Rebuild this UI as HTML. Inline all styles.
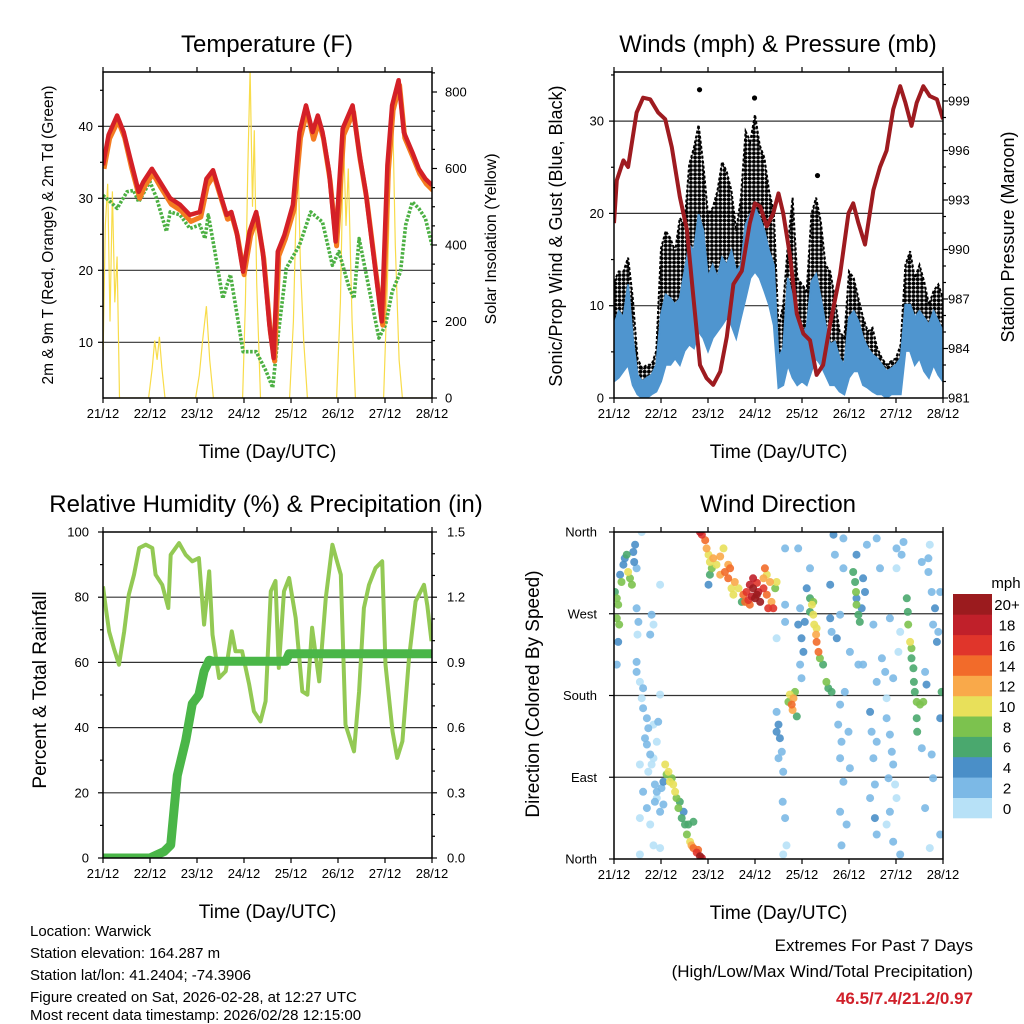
<!DOCTYPE html>
<html><head><meta charset="utf-8"><style>
html,body{margin:0;padding:0;background:#fff}
svg{display:block;font-family:"Liberation Sans",Arial,sans-serif}
</style></head><body>
<svg id="s" width="1024" height="1024" viewBox="0 0 1024 1024" xmlns="http://www.w3.org/2000/svg">
<defs>
<clipPath id="c1"><rect x="103" y="72" width="329" height="326"/></clipPath>
<clipPath id="c2"><rect x="614" y="72" width="329" height="326"/></clipPath>
<clipPath id="c3"><rect x="103" y="532" width="329" height="326"/></clipPath>
<clipPath id="c4"><rect x="614" y="532" width="329" height="327"/></clipPath>
<pattern id="dots" width="4.2" height="4.2" patternUnits="userSpaceOnUse"><circle cx="2.1" cy="2.1" r="2.0" fill="#000"/></pattern>
</defs>
<g id="g1"></g>
<g id="g2"></g>
<g id="g3"></g>
<g id="g4"></g>
<g id="txt" font-size="15" fill="#000">
<text x="30" y="936">Location: Warwick</text>
<text x="30" y="958">Station elevation: 164.287 m</text>
<text x="30" y="980">Station lat/lon: 41.2404; -74.3906</text>
<text x="30" y="1002">Figure created on Sat, 2026-02-28, at 12:27 UTC</text>
<text x="30" y="1024" dy="-4">Most recent data timestamp: 2026/02/28 12:15:00</text>
<text x="973" y="951" text-anchor="end" font-size="17">Extremes For Past 7 Days</text>
<text x="973" y="977" text-anchor="end" font-size="17">(High/Low/Max Wind/Total Precipitation)</text>
<text x="973" y="1004" text-anchor="end" font-size="17" font-weight="bold" fill="#d0202a">46.5/7.4/21.2/0.97</text>
</g>
</svg>
<script>
// ---- Temperature data ----
const tempDays=[0,0.12,0.30,0.44,0.58,0.76,0.86,1.04,1.21,1.43,1.64,1.85,2.06,2.20,2.34,2.48,2.63,2.73,2.84,2.98,3.12,3.26,3.40,3.54,3.63,3.72,3.86,4.04,4.18,4.32,4.46,4.57,4.67,4.81,4.95,5.10,5.31,5.45,5.59,5.80,5.93,6.05,6.15,6.29,6.40,6.58,6.72,6.86,7.0];
const temp2m=[34.6,38.8,41.5,39.2,35.5,30.9,32.3,34.1,32.3,30.0,29.1,27.7,28.1,32.7,33.9,30.9,27.7,28.1,25.4,19.8,25.4,28.1,22.6,12.4,7.8,22.6,24.9,29.1,39.2,42.9,39.2,41.5,39.2,33.7,24.0,39.7,42.9,36.4,30.9,19.8,12.9,34.6,42.9,46.4,39.2,36.4,34.1,32.7,31.8];
const temp9m=[34.3,38.5,41.0,38.6,34.6,30.2,31.8,33.6,31.7,29.4,28.5,27.0,27.6,32.0,33.4,30.4,27.3,27.6,25.0,19.6,25.0,27.6,21.8,11.6,7.6,22.2,24.6,28.6,38.6,42.3,38.4,40.8,38.5,32.7,23.6,39.0,42.2,35.6,30.2,19.2,12.6,34.0,42.4,45.9,38.6,35.8,33.6,32.2,31.3];
const dewDays=[0,0.16,0.30,0.51,0.65,0.76,1.00,1.14,1.35,1.43,1.64,1.85,2.06,2.17,2.24,2.38,2.55,2.71,2.84,2.98,3.26,3.47,3.61,3.72,3.90,4.18,4.42,4.67,4.88,5.02,5.24,5.34,5.45,5.59,5.87,6.01,6.15,6.33,6.44,6.58,6.72,6.86,7.0];
const dew2m=[30.4,29.5,28.6,30.9,31.1,29.5,32.3,30.0,25.4,28.1,27.7,25.8,26.3,24.4,27.7,22.6,16.1,19.4,14.3,8.7,8.7,6.0,3.7,10.6,20.3,23.5,28.1,26.7,20.7,22.6,17.5,16.1,24.4,19.8,10.6,12.4,17.0,19.8,26.3,29.5,28.6,27.2,23.5];
const solarDays=[0,0.05,0.1,0.15,0.2,0.25,0.3,0.35,0.97,1.05,1.1,1.15,1.2,1.25,1.32,1.97,2.05,2.12,2.2,2.27,2.35,2.97,3.03,3.08,3.13,3.18,3.22,3.27,3.35,3.97,4.05,4.1,4.15,4.2,4.27,4.35,4.97,5.05,5.12,5.17,5.22,5.3,5.37,5.97,6.05,6.12,6.17,6.22,6.3,6.37,7.0];
const solarW=[100,450,560,200,540,250,370,0,0,80,150,100,160,80,0,0,60,150,240,100,0,0,250,600,860,500,700,300,0,0,200,450,615,350,150,0,0,250,680,450,600,200,0,0,300,650,700,400,100,0,0];
// ---- Winds / pressure data ----
const presDays=[0,0.06,0.2,0.3,0.48,0.62,0.77,0.94,1.09,1.23,1.40,1.55,1.69,1.83,1.97,2.11,2.26,2.40,2.54,2.72,2.89,3.0,3.11,3.25,3.39,3.50,3.60,3.74,3.89,4.03,4.17,4.31,4.45,4.60,4.81,4.99,5.09,5.20,5.34,5.52,5.66,5.80,5.94,6.09,6.20,6.33,6.44,6.58,6.72,6.87,7.0];
const presMb=[991.6,994.2,995.4,995.0,998.3,999.2,999.1,998.3,997.9,996.2,993.2,991.2,987.1,983.0,982.2,981.8,982.6,984.7,987.9,988.7,991.6,992.8,992.6,991.4,992.2,993.4,992.2,989.7,986.1,984.9,984.5,982.4,983.0,985.5,988.5,992.2,992.8,991.6,990.3,993.6,995.0,996.0,998.5,999.9,998.9,997.5,998.9,999.9,999.3,999.1,997.9];
const windStepDays=0.1;
const windHi=[7.9,9.4,8.7,12.3,6.5,2.5,1.8,2.2,2.5,3.6,9.0,11.2,10.8,10.1,10.8,13.7,16.6,15.9,19.9,18.1,13.0,14.4,13.0,15.2,14.4,15.9,13.7,14.4,18.8,19.9,20.6,19.5,18.1,15.9,14.4,4.3,5.4,13.0,10.8,8.7,7.2,7.6,12.6,13.4,10.8,7.9,5.8,6.1,4.3,3.6,8.7,9.4,8.3,6.5,5.4,4.7,4.3,3.6,2.9,3.2,3.6,4.3,10.1,10.1,8.7,9.4,8.7,7.9,9.4,8.3,7.2];
const windLo=[1.8,2.2,2.9,3.6,1.4,0.4,0,0,0.4,0.7,1.8,3.6,3.6,4.3,3.6,5.1,5.8,5.4,7.2,6.5,5.1,6.5,7.2,7.9,8.7,7.9,6.5,8.7,10.8,13.0,13.7,13.0,11.6,10.1,7.9,1.1,1.4,3.6,2.2,1.4,1.8,1.4,2.9,4.3,3.6,2.5,1.4,1.4,0.7,0.4,2.2,2.9,2.9,1.4,1.1,0.7,0.4,0.4,0,0.4,0.4,0.4,5.1,5.1,3.6,4.3,2.9,2.2,3.6,2.5,1.8];
const gustHi=[12.6,13.7,13.7,15.2,10.8,4.3,3.2,3.6,3.6,5.1,16.2,18.1,17.3,15.9,19.5,18.8,25.3,27.1,29.6,25.3,19.9,20.6,22.4,25.6,24.5,22.4,18.1,21.7,28.9,27.8,30.7,27.4,26.0,22.4,20.2,7.6,10.1,16.6,21.7,13.0,12.3,11.6,19.9,21.7,19.1,14.4,13.7,10.8,7.2,6.5,13.7,13.0,10.8,8.7,7.2,7.6,5.4,4.3,3.6,4.0,4.3,5.8,14.4,15.9,13.0,14.4,12.6,10.1,11.6,12.3,10.8];
const gustPeakDays=[1.82,2.99,4.33];
const gustPeakMph=[33.4,32.5,24.1];
// ---- Humidity / precipitation ----
const rhDays=[0,0.06,0.13,0.23,0.34,0.45,0.55,0.66,0.77,0.91,1.05,1.12,1.26,1.39,1.44,1.62,1.76,1.9,2.04,2.15,2.26,2.33,2.47,2.61,2.74,2.82,2.96,3.11,3.21,3.35,3.46,3.57,3.67,3.74,3.85,3.96,4.1,4.24,4.35,4.45,4.6,4.74,4.88,4.96,5.06,5.16,5.34,5.45,5.55,5.66,5.8,5.94,6.01,6.16,6.26,6.37,6.51,6.65,6.83,6.9,6.99];
const rhPct=[83.3,76.7,69.5,64.4,59.3,69.5,80.8,86.9,95.1,96.1,95.1,86.9,83.8,76.7,93.0,96.6,93.0,91.0,92.0,71.6,87.9,68.5,55.2,57.3,69.5,63.4,63.4,53.2,45.0,41.9,48.1,81.8,85.0,58.3,81.8,85.9,73.6,51.1,50.1,70.6,54.2,79.8,96.1,92.0,86.9,40.9,32.7,51.1,76.7,83.8,89.0,91.0,59.3,38.9,30.7,35.8,61.3,78.7,83.8,77.5,66.5];
const precDays=[0,1.0,1.3,1.44,1.58,1.76,1.9,2.04,2.15,2.26,2.33,3.89,3.96,7.0];
const precIn=[0,0,0.03,0.06,0.38,0.54,0.71,0.75,0.86,0.91,0.905,0.905,0.94,0.94];
// ---- Wind direction: [day, degrees, mph] ----
const windDirObs=[
[0.02,294,6],[0.06,287,8],[0.09,280,8],[0.06,265,8],[0.11,258,8],[0.13,313,5],[0.2,324,4],[0.23,331,4],[0.27,335,6],[0.3,316,10],[0.34,309,8],[0.38,302,8],[0.41,338,4],[0.45,346,4],[0.43,327,4],[0.16,305,8],[0.09,239,4],[0.06,214,3],[0.48,320,2],[0.59,360,1],
[0.48,276,3],[0.52,261,3],[0.5,247,1],[0.48,217,2],[0.48,206,3],[0.55,195,1],[0.62,188,2],[0.59,177,1],[0.62,166,3],[0.7,155,2],[0.73,144,2],[0.66,133,2],[0.7,126,2],[0.77,115,2],[0.8,104,1],[0.73,96,1],[0.84,111,1],[0.91,129,1],[0.98,302,1],[0.8,269,2],[0.84,258,1],[0.77,247,2],[0.84,148,1],[0.55,104,1],[0.62,74,2],[0.7,56,2],[0.55,45,1],[0.77,38,1],[0.91,67,1],[0.84,15,1],[0.55,5,1],[0.98,12,1],[0.94,151,2],[0.98,181,1],[0.87,82,2],
[1.09,104,10],[1.16,96,10],[1.23,89,8],[1.3,74,10],[1.33,67,8],[1.37,56,8],[1.44,45,6],[1.51,38,6],[1.55,27,8],[1.62,19,10],[1.69,12,14],[1.76,7,16],[1.83,3,20],[1.87,1,18],[1.79,10,14],[1.65,15,12],[1.19,85,10],[1.26,82,10],[1.12,93,8],[1.05,85,4],[1.01,78,3],[1.05,60,3],[0.98,52,3],[0.91,74,2],[0.87,63,3],[1.48,52,4],[1.4,63,6],[1.58,38,6],[1.69,41,6],
[1.83,360,18],[1.87,357,16],[1.94,351,14],[1.97,342,12],[2.01,335,10],[2.04,327,10],[2.08,320,8],[2.04,313,6],[2.11,331,12],[2.18,324,10],[2.26,333,12],[2.33,342,10],[2.26,313,12],[2.36,316,14],[2.43,309,14],[2.47,320,14],[2.5,298,10],[2.54,291,10],[2.57,305,12],[2.65,298,10],[2.72,283,6],[2.75,291,14],[2.82,294,16],[2.89,302,18],[2.96,298,20],[3.04,291,20],[3.11,283,20],[3.07,294,18],[3.0,287,20],[2.93,289,18],[2.86,285,16],[3.18,298,16],[3.21,320,14],[3.25,291,14],[3.32,305,12],[3.35,283,12],[3.39,276,16],[3.28,276,16],[3.43,298,8],[3.46,305,10],[2.96,309,18],[3.18,309,12],[3.25,313,10],[2.01,302,4],[2.43,324,12],[3.04,304,16],[2.79,283,14],[2.89,280,14],
[3.74,181,10],[3.78,170,14],[3.82,177,12],[3.85,184,8],[3.8,164,12],[3.89,157,6],[3.71,173,8],
[4.17,287,6],[4.21,280,10],[4.24,269,10],[4.26,258,10],[4.3,247,12],[4.31,239,14],[4.35,228,14],[4.38,221,8],[4.45,214,6],[4.52,195,8],[4.56,188,6],[4.63,184,6],[4.17,272,6],[4.24,283,8],[4.31,254,10],
[5.09,316,6],[5.13,305,6],[5.15,294,8],[5.16,280,8],[5.2,269,6],[5.23,261,6],[5.16,287,4],[5.27,276,4],[5.34,294,4],[5.3,309,4],
[6.23,287,6],[6.25,272,6],[6.26,258,8],[6.3,239,10],[6.33,232,8],[6.33,221,6],[6.37,210,6],[6.38,195,6],[6.4,184,6],[6.44,173,8],[6.51,170,8],[6.44,155,6],[6.45,140,6],[6.58,173,8],
[3.46,162,3],[3.5,148,4],[3.53,133,4],[3.57,118,3],[3.6,96,3],[3.5,111,3],[3.59,63,2],[3.64,45,2],[3.67,15,1],[3.6,5,1],[3.46,140,4],[3.64,342,2],[3.92,342,2],[3.46,243,1],[3.64,261,2],[3.64,280,2],[3.92,258,4],[3.99,243,4],[4.03,228,4],[3.96,214,3],[3.99,199,3],[4.1,298,4],[4.17,320,3],[4.06,261,4],[3.96,276,3],
[4.6,302,4],[4.67,357,4],[4.7,335,3],[4.6,265,4],[4.63,250,3],[4.74,243,4],[4.81,269,3],[4.88,353,2],[4.88,320,3],[4.81,170,2],[4.77,148,3],[4.84,129,2],[4.81,111,2],[4.88,85,3],[4.81,52,2],[4.95,38,2],[4.84,15,2],[5.02,100,2],[4.91,184,3],[4.99,140,2],
[5.16,335,4],[5.38,346,2],[5.45,162,4],[5.48,140,3],[5.52,111,3],[5.55,82,3],[5.55,45,4],[5.59,27,3],[5.45,67,2],[5.59,129,2],[5.02,228,3],[5.2,214,3],[5.3,214,2],[5.59,353,2],[5.66,320,2],[5.52,258,3],[5.7,221,2],[5.59,195,2],
[5.8,155,2],[5.87,137,2],[5.91,118,2],[5.94,104,2],[5.84,89,2],[5.98,82,1],[6.01,67,1],[5.87,52,2],[5.8,38,1],[5.94,19,2],[6.09,5,2],[5.8,177,1],[6.01,342,2],[6.12,335,3],[6.16,349,2],[6.01,320,1],[5.87,265,2],[6.09,250,1],[5.94,199,2],[5.77,206,2],[6.05,228,1],
[6.55,327,2],[6.69,316,3],[6.76,294,3],[6.83,276,4],[6.79,258,3],[6.87,239,4],[6.62,206,3],[6.65,192,4],[6.72,346,1],[6.94,294,3],[6.97,184,6],[6.94,155,4],[6.76,115,3],[6.55,122,2],[6.94,27,2],[6.72,12,1],[6.62,56,2],[6.79,89,2],[6.69,331,2],[6.9,250,3]
];
const speedLabels=["0","2","4","6","8","10","12","14","16","18","20+"];
const speedColors=["#b7e1f7","#7cb9e6","#4a8fc8","#4aa86e","#7cc24e","#e8e05a","#f9a94a","#f26b2a","#e0352b","#c0202a","#9b1b1e"];
const dayLabels=["21/12","22/12","23/12","24/12","25/12","26/12","27/12","28/12"];

const NS="http://www.w3.org/2000/svg";
function mk(parent,tag,attrs,text){const e=document.createElementNS(NS,tag);for(const k in attrs)e.setAttribute(k,attrs[k]);if(text!==undefined)e.textContent=text;parent.appendChild(e);return e;}
function pts(xs,ys,fx,fy){return xs.map((x,i)=>fx(x).toFixed(1)+","+fy(ys[i]).toFixed(1)).join(" ");}

function frame(g,L,T,W,H,title,xlab,tcx){
  // x ticks + labels
  dayLabels.forEach((lab,i)=>{
    const x=L+i*W/7;
    mk(g,"line",{x1:x,x2:x,y1:T+H,y2:T+H+5,stroke:"#000","stroke-width":1.2});
    mk(g,"line",{x1:x,x2:x,y1:T,y2:T-5,stroke:"#000","stroke-width":1.2});
    const t=mk(g,"text",{x:x,y:T+H+20,"text-anchor":"middle","font-size":13},lab);
    
    
  });
  const tt=mk(g,"text",{x:tcx,y:T-20,"text-anchor":"middle","font-size":24},title);
  
  
  const xl=mk(g,"text",{x:L+W/2,y:T+H+60,"text-anchor":"middle","font-size":19},xlab);
  
  
}
function border(g,L,T,W,H){
  const r=mk(g,"rect",{x:L,y:T,width:W,height:H,fill:"none",stroke:"#000","stroke-width":1.5});
  
  
}
function grid(g,L,W,y){const l=mk(g,"line",{x1:L,x2:L+W,y1:y,y2:y,stroke:"#333","stroke-width":1.2});}
function yTick(g,x,y,dir,len,label,anchor,lx){
  mk(g,"line",{x1:x,x2:x+dir*len,y1:y,y2:y,stroke:"#000","stroke-width":1.2});
  if(label!==null){const t=mk(g,"text",{x:lx,y:y+4.5,"text-anchor":anchor,"font-size":13},label);
    
    }
}
function vlabel(g,x,y,size,text,name){const t=mk(g,"text",{x:x,y:y,"text-anchor":"middle","font-size":size,transform:`rotate(-90 ${x} ${y})`},text);
  
  }

// ===== Panel 1 =====
(function(){
  const g=document.getElementById("g1");const L=103,T=72,W=329,H=326;
  const x=d=>L+d*W/7, y=v=>342.3-(v-10)*7.2, ys=w=>T+H-w*0.3825;
  [10,20,30,40].forEach(v=>grid(g,L,W,y(v)));
  const c=mk(g,"g",{"clip-path":"url(#c1)"});
  const sol=mk(c,"polyline",{points:pts(solarDays,solarW,x,ys),fill:"none",stroke:"#f8dc4a","stroke-width":1.2});
  
  
  const dw=mk(c,"polyline",{points:pts(dewDays,dew2m,x,y),fill:"none",stroke:"#4cb043","stroke-width":3.6,"stroke-dasharray":"2.6 1.6","stroke-linejoin":"round"});
  
  
  const o=mk(c,"polyline",{points:pts(tempDays,temp9m,x,y),fill:"none",stroke:"#f47b20","stroke-width":5,"stroke-linejoin":"round",transform:"translate(1,1.5)"});
  
  
  const r=mk(c,"polyline",{points:pts(tempDays,temp2m,x,y),fill:"none",stroke:"#d42027","stroke-width":4.5,"stroke-linejoin":"round"});
  
  
  border(g,L,T,W,H);
  [10,20,30,40].forEach(v=>yTick(g,L,y(v),-1,5,String(v),"end",93));
  [5,15,25,35,45].forEach(v=>yTick(g,L,y(v),-1,3,null));
  [0,200,400,600,800].forEach(v=>yTick(g,L+W,ys(v),1,5,String(v),"start",445));
  [50,100,150,250,300,350,450,500,550,650,700,750,850].forEach(v=>yTick(g,L+W,ys(v),1,3,null));
  frame(g,L,T,W,H,"Temperature (F)","Time (Day/UTC)",267);
  vlabel(g,53,235,15.5,"2m & 9m T (Red, Orange) & 2m Td (Green)","left-y-axis-title");
  vlabel(g,496,239,16,"Solar Insolation (Yellow)","right-y-axis-title");
})();

// ===== Panel 2 =====
(function(){
  const g=document.getElementById("g2");const L=614,T=72,W=329,H=326;
  const x=d=>L+d*W/7, y=v=>T+H-v*9.23, yp=p=>T+H-(p-981)*16.5;
  [10,20,30].forEach(v=>grid(g,L,W,y(v)));
  const c=mk(g,"g",{"clip-path":"url(#c2)"});
  const wd=windHi.map((_,i)=>i*windStepDays);
  const top=wd.map((d,i)=>x(d).toFixed(1)+","+y(gustHi[i]).toFixed(1));
  const mid=wd.map((d,i)=>x(d).toFixed(1)+","+y(windHi[i]).toFixed(1)).reverse();
  const gb=mk(c,"polygon",{points:top.concat(mid).join(" "),fill:"url(#dots)",stroke:"#000","stroke-width":2,"stroke-dasharray":"3 2"});
  
  
  gustPeakDays.forEach((d,i)=>{const p=mk(c,"circle",{cx:x(d),cy:y(gustPeakMph[i]),r:2.6,fill:"#000"});
    
    });
  const hi=wd.map((d,i)=>x(d).toFixed(1)+","+y(windHi[i]).toFixed(1));
  const lo=wd.map((d,i)=>x(d).toFixed(1)+","+y(windLo[i]).toFixed(1)).reverse();
  const wb=mk(c,"polygon",{points:hi.concat(lo).join(" "),fill:"#4f95cf",stroke:"#4f95cf","stroke-width":2});
  
  
  const pr=mk(c,"polyline",{points:pts(presDays,presMb,x,yp),fill:"none",stroke:"#9e1b20","stroke-width":4,"stroke-linejoin":"round"});
  
  
  border(g,L,T,W,H);
  [0,10,20,30].forEach(v=>yTick(g,L,y(v),-1,5,String(v),"end",604));
  [5,15,25,35].forEach(v=>yTick(g,L,y(v),-1,3,null));
  [981,984,987,990,993,996,999].forEach(v=>yTick(g,L+W,yp(v),1,5,String(v),"start",948));
  for(let p=982;p<=1000;p++){if((p-981)%3)yTick(g,L+W,yp(p),1,3,null);}
  frame(g,L,T,W,H,"Winds (mph) & Pressure (mb)","Time (Day/UTC)",778);
  vlabel(g,562,236,18,"Sonic/Prop Wind & Gust (Blue, Black)","left-y-axis-title");
  vlabel(g,1014,237,18,"Station Pressure (Maroon)","right-y-axis-title");
})();

// ===== Panel 3 =====
(function(){
  const g=document.getElementById("g3");const L=103,T=532,W=329,H=326;
  const x=d=>L+d*W/7, y=v=>T+H-v*3.26, yi=v=>T+H-v/1.5*326;
  [20,40,60,80].forEach(v=>grid(g,L,W,y(v)));
  const c=mk(g,"g",{"clip-path":"url(#c3)"});
  const rh=mk(c,"polyline",{points:pts(rhDays,rhPct,x,y),fill:"none",stroke:"#93c954","stroke-width":4,"stroke-linejoin":"round"});
  
  
  const pc=mk(c,"polyline",{points:pts(precDays,precIn,x,yi),fill:"none",stroke:"#4ab648","stroke-width":9,"stroke-linejoin":"round","stroke-linecap":"round"});
  
  
  border(g,L,T,W,H);
  [0,20,40,60,80,100].forEach(v=>yTick(g,L,y(v),-1,5,String(v),"end",89));
  [10,30,50,70,90].forEach(v=>yTick(g,L,y(v),-1,3,null));
  ["0.0","0.3","0.6","0.9","1.2","1.5"].forEach(s=>yTick(g,L+W,yi(parseFloat(s)),1,5,s,"start",447));
  [0.1,0.2,0.4,0.5,0.7,0.8,1.0,1.1,1.3,1.4].forEach(v=>yTick(g,L+W,yi(v),1,3,null));
  frame(g,L,T,W,H,"Relative Humidity (%) & Precipitation (in)","Time (Day/UTC)",266);
  vlabel(g,46,690,19,"Percent & Total Rainfall","left-y-axis-title");
})();

// ===== Panel 4 =====
(function(){
  const g=document.getElementById("g4");const L=614,T=532,W=329,H=327;
  const x=d=>L+d*W/7, y=v=>T+H-v/360*H;
  [90,180,270].forEach(v=>grid(g,L,W,y(v)));
  const c=mk(g,"g",{"clip-path":"url(#c4)"});
  const sorted=windDirObs.slice().sort((a,b)=>a[2]-b[2]);
  sorted.forEach(o=>{
    const bin=Math.min(10,Math.floor(o[2]/2));
    const p=mk(c,"circle",{cx:x(o[0]).toFixed(1),cy:y(o[1]).toFixed(1),r:4,fill:speedColors[bin],"fill-opacity":0.9});
    
    
  });
  border(g,L,T,W,H);
  ["North","East","South","West","North"].forEach((lab,i)=>yTick(g,L,y(i*90),-1,5,lab,"end",597));
  frame(g,L,T,W,H,"Wind Direction","Time (Day/UTC)",778);
  vlabel(g,539,694,19,"Direction (Colored By Speed)","left-y-axis-title");
  // colorbar
  const cb=mk(g,"g",{});
  
  
  const bh=224/11;
  speedColors.forEach((col,i)=>{
    const yy=594+(10-i)*bh;
    const r=mk(cb,"rect",{x:953,y:yy.toFixed(1),width:39,height:(bh+0.3).toFixed(1),fill:col});
    
    
    const t=mk(cb,"text",{x:1007,y:(yy+bh/2+6).toFixed(1),"text-anchor":"middle","font-size":15},speedLabels[i]);
    
    
  });
  const u=mk(cb,"text",{x:1006,y:588,"text-anchor":"middle","font-size":15},"mph");
  
  
})();
</script>
</body></html>
